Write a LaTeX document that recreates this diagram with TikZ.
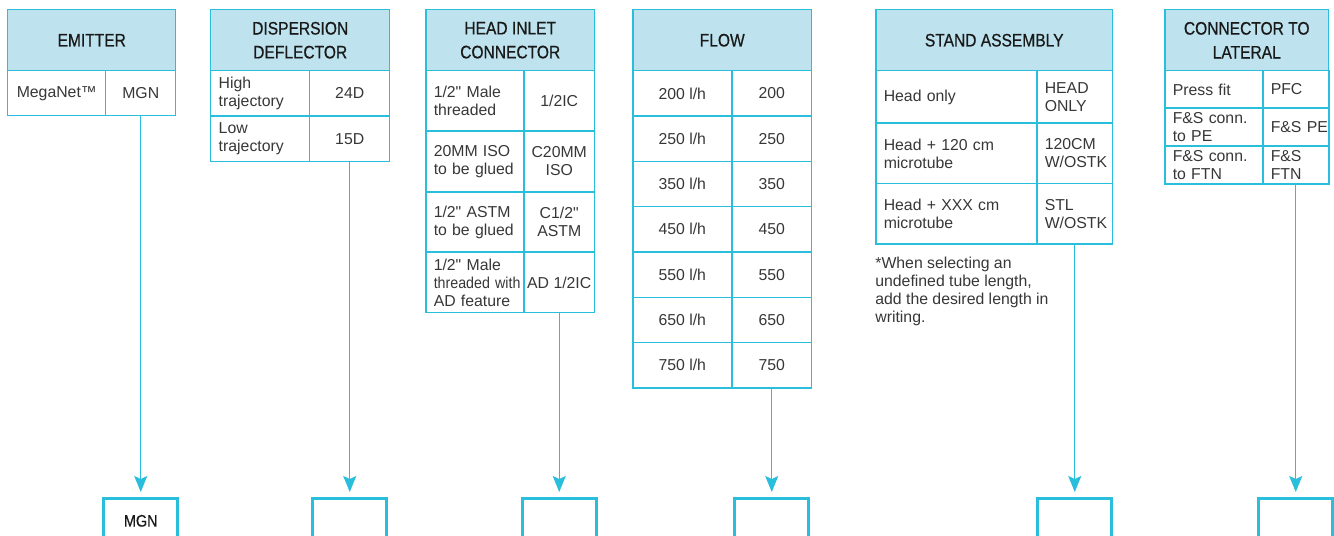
\documentclass[tikz,border=0pt]{standalone}
\usepackage{fontspec}
\setmainfont{Liberation Sans}[Ligatures=TeXOff]
\newfontfamily\hdrfont[FakeStretch=0.86,FakeBold=0.6,Ligatures=TeXOff]{Liberation Sans}
\newfontfamily\narrowfont[FakeStretch=0.9,Ligatures=TeXOff]{Liberation Sans}
\usepackage{xcolor}
\usepackage{tikz}
\usetikzlibrary{arrows.meta,positioning}
\definecolor{lineblue}{RGB}{41,190,220}
\definecolor{headblue}{RGB}{190,227,238}
\definecolor{bodygray}{RGB}{55,55,55}
\tikzset{
  head/.style={draw=lineblue,fill=headblue,line width=0.85pt,anchor=north west,inner sep=0pt,
    minimum height=1.22cm,align=center,font=\hdrfont\fontsize{10.3}{13.6}\selectfont,text=black!90},
  cell/.style={draw=lineblue,line width=0.85pt,anchor=north west,inner sep=0pt,align=center,
    font=\fontsize{9}{10.2}\selectfont,text=bodygray},
  lcell/.style={cell,inner xsep=0.16cm,align=left},
  pick/.style={draw=lineblue,line width=1.5pt,anchor=north,minimum width=1.48cm,minimum height=0.9cm,
    font=\hdrfont\fontsize{9.5}{11}\selectfont,text=black!90},
  conn/.style={draw=lineblue,line width=0.8pt,-{Stealth[length=0.32cm,width=0.26cm,inset=0.06cm]},shorten >=0.1cm}
}
\begin{document}
\begin{tikzpicture}[x=0.02cm,y=-0.02cm]
\useasboundingbox (0,0) rectangle (1334,535);
\clip (0,0) rectangle (1334,535);
\coordinate (pickrow) at (0,497);

% emitter
\node[head,minimum width=3.36cm] (em-h) at (7,9) {EMITTER};
\node[cell,minimum width=1.96cm,minimum height=0.9cm] (em-l1) at (7,70) {MegaNet™};
\node[cell,minimum width=1.40cm,minimum height=0.9cm] (em-c1) at (105,70) {MGN};

% dispersion deflector
\node[head,minimum width=3.58cm] (dd-h) at (210,9) {DISPERSION\\DEFLECTOR};
\node[lcell,text width=1.66cm,minimum height=0.9cm] (dd-l1) at (210,70) {High\\trajectory};
\node[cell,minimum width=1.60cm,minimum height=0.9cm] (dd-c1) at (309,70) {24D};
\node[lcell,text width=1.66cm,minimum height=0.92cm] (dd-l2) at (210,115) {Low\\trajectory};
\node[cell,minimum width=1.60cm,minimum height=0.92cm] (dd-c2) at (309,115) {15D};

% head inlet connector
\node[head,minimum width=3.38cm] (hi-h) at (425,9) {HEAD INLET\\CONNECTOR};
\node[lcell,text width=1.64cm,minimum height=1.21cm] (hi-l1) at (425,70) {1/2" Male\\threaded};
\node[cell,minimum width=1.42cm,minimum height=1.21cm] (hi-c1) at (523,70) {1/2IC};
\node[lcell,text width=1.64cm,minimum height=1.21cm] (hi-l2) at (425,130.5) {20MM ISO\\to be glued};
\node[cell,minimum width=1.42cm,minimum height=1.21cm] (hi-c2) at (523,130.5) {C20MM\\ISO};
\node[lcell,text width=1.64cm,minimum height=1.21cm] (hi-l3) at (425,191) {1/2" ASTM\\to be glued};
\node[cell,minimum width=1.42cm,minimum height=1.21cm] (hi-c3) at (523,191) {C1/2"\\ASTM};
\node[lcell,text width=1.64cm,minimum height=1.21cm] (hi-l4) at (425,251.5) {1/2" Male\\\mbox{\narrowfont threaded with}\\AD feature};
\node[cell,minimum width=1.42cm,minimum height=1.21cm] (hi-c4) at (523,251.5) {AD 1/2IC};

% flow
\node[head,minimum width=3.58cm] (fl-h) at (632,9) {FLOW};
\foreach \f [count=\i] in {200,250,350,450,550,650,750}{
  \node[cell,minimum width=1.98cm,minimum height=0.906cm] (fl-l\i) at (632,24.7+45.3*\i) {\f{} l/h};
  \node[cell,minimum width=1.60cm,minimum height=0.906cm] (fl-c\i) at (731,24.7+45.3*\i) {\f};
}

% stand assembly
\node[head,minimum width=4.74cm] (sa-h) at (875,9) {STAND ASSEMBLY};
\node[lcell,text width=2.90cm,minimum height=1.05cm] (sa-l1) at (875,70) {Head only};
\node[lcell,text width=1.20cm,minimum height=1.05cm] (sa-c1) at (1036,70) {HEAD\\ONLY};
\node[lcell,text width=2.90cm,minimum height=1.20cm] (sa-l2) at (875,122.7) {Head + 120 cm\\microtube};
\node[lcell,text width=1.20cm,minimum height=1.20cm] (sa-c2) at (1036,122.7) {120CM\\W/OSTK};
\node[lcell,text width=2.90cm,minimum height=1.21cm] (sa-l3) at (875,182.7) {Head + XXX cm\\microtube};
\node[lcell,text width=1.20cm,minimum height=1.21cm] (sa-c3) at (1036,182.7) {STL\\W/OSTK};
\node[anchor=north west,inner sep=0pt,align=left,font=\fontsize{9}{10.2}\selectfont,text=bodygray]
  (sa-note) at (875,257) {*When selecting an\\undefined tube length,\\add the desired length in\\writing.};

% connector to lateral
\node[head,minimum width=3.28cm] (cl-h) at (1164,9) {CONNECTOR TO\\LATERAL};
\node[lcell,text width=1.64cm,minimum height=0.75cm] (cl-l1) at (1164,70) {Press fit};
\node[lcell,text width=1.00cm,minimum height=0.75cm] (cl-c1) at (1262,70) {PFC};
\node[lcell,text width=1.64cm,minimum height=0.76cm] (cl-l2) at (1164,107.3) {F\&S conn.\\to PE};
\node[lcell,text width=1.00cm,minimum height=0.76cm] (cl-c2) at (1262,107.3) {\mbox{F\&S PE}};
\node[lcell,text width=1.64cm,minimum height=0.76cm] (cl-l3) at (1164,145.3) {F\&S conn.\\to FTN};
\node[lcell,text width=1.00cm,minimum height=0.76cm] (cl-c3) at (1262,145.3) {F\&S\\FTN};

% picked code boxes
\node[pick] (em-pick) at (em-c1.south |- pickrow) {MGN};
\node[pick] (dd-pick) at (dd-c2.south |- pickrow) {};
\node[pick] (hi-pick) at (hi-c4.south |- pickrow) {};
\node[pick] (fl-pick) at (fl-c7.south |- pickrow) {};
\node[pick] (sa-pick) at (sa-c3.south |- pickrow) {};
\node[pick] (cl-pick) at (cl-c3.south |- pickrow) {};

\draw[conn] (em-c1.south) -- (em-pick.north);
\draw[conn] (dd-c2.south) -- (dd-pick.north);
\draw[conn] (hi-c4.south) -- (hi-pick.north);
\draw[conn] (fl-c7.south) -- (fl-pick.north);
\draw[conn] (sa-c3.south) -- (sa-pick.north);
\draw[conn] (cl-c3.south) -- (cl-pick.north);
\end{tikzpicture}
\end{document}
